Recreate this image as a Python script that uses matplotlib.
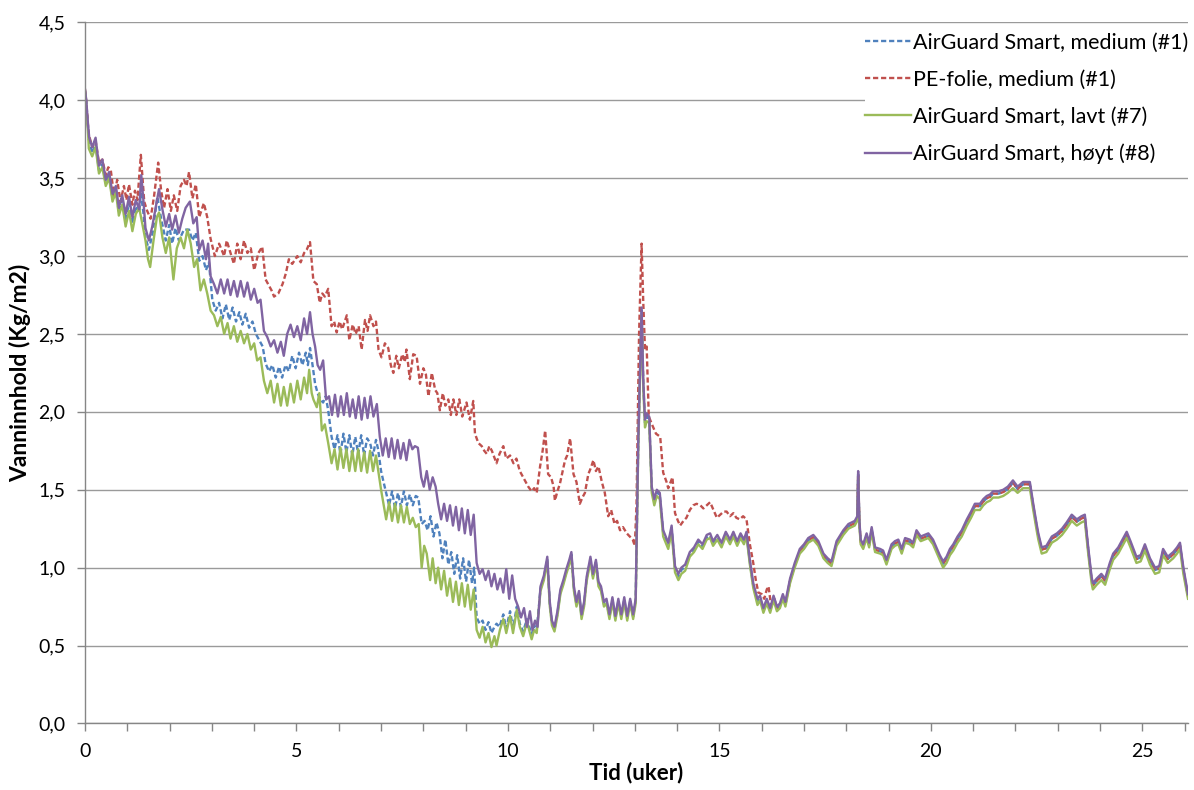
import matplotlib.pyplot as plt
from matplotlib.ticker import MultipleLocator, FuncFormatter

plt.rcParams['font.family'] = ['Lato', 'DejaVu Sans']

# series names and colours (Excel 2007 palette)
labels = ['AirGuard Smart, medium (#1)', 'PE-folie, medium (#1)',
          'AirGuard Smart, lavt (#7)', 'AirGuard Smart, høyt (#8)']
colors = ['#4F81BD', '#C0504D', '#9BBB59', '#8064A2']

# (uker, kg/m2)
hoyt = [(0.00,4.07),(0.03,4.00),(0.07,3.85),(0.10,3.76),(0.17,3.70),(0.25,3.76),(0.33,3.58),(0.41,3.62),(0.49,3.49),(0.57,3.54),
        (0.65,3.40),(0.73,3.45),(0.80,3.31),(0.88,3.39),(0.96,3.27),(1.04,3.38),(1.12,3.25),(1.20,3.36),(1.28,3.30),(1.33,3.52),
        (1.38,3.36),(1.43,3.18),(1.51,3.10),(1.59,3.19),(1.67,3.31),(1.75,3.43),(1.83,3.30),(1.91,3.19),(1.99,3.27),(2.06,3.17),
        (2.14,3.26),(2.22,3.15),(2.30,3.24),(2.38,3.31),(2.48,3.35),(2.56,3.21),(2.64,3.25),(2.70,3.04),(2.78,3.10),(2.86,2.98),
        (2.91,3.08),(2.97,2.87),(3.05,2.82),(3.13,2.76),(3.21,2.85),(3.29,2.76),(3.37,2.85),(3.44,2.75),(3.52,2.84),(3.60,2.74),
        (3.68,2.84),(3.76,2.74),(3.84,2.83),(3.92,2.72),(4.00,2.79),(4.08,2.70),(4.15,2.72),(4.23,2.52),(4.31,2.48),(4.39,2.42),
        (4.47,2.46),(4.55,2.38),(4.63,2.45),(4.70,2.36),(4.78,2.50),(4.86,2.56),(4.94,2.48),(5.02,2.55),(5.10,2.46),(5.18,2.60),
        (5.25,2.50),(5.32,2.64),(5.38,2.50),(5.44,2.42),(5.50,2.30),(5.56,2.27),(5.63,2.33),(5.70,2.08),(5.77,2.10),(5.84,1.98),
        (5.91,2.11),(5.98,1.97),(6.05,2.10),(6.12,1.98),(6.19,2.12),(6.26,1.97),(6.33,2.08),(6.40,1.96),(6.47,2.10),(6.54,1.95),
        (6.61,2.09),(6.68,1.96),(6.75,2.10),(6.82,1.97),(6.90,2.05),(6.97,1.84),(7.04,1.72),(7.11,1.83),(7.18,1.71),(7.25,1.83),
        (7.32,1.70),(7.39,1.82),(7.46,1.70),(7.53,1.80),(7.60,1.69),(7.67,1.82),(7.74,1.76),(7.80,1.78),(7.87,1.77),(7.95,1.58),
        (8.01,1.52),(8.08,1.62),(8.15,1.50),(8.22,1.58),(8.29,1.52),(8.35,1.41),(8.42,1.31),(8.49,1.41),(8.56,1.30),(8.63,1.40),
        (8.70,1.27),(8.77,1.39),(8.84,1.24),(8.91,1.38),(8.98,1.22),(9.05,1.37),(9.12,1.21),(9.19,1.34),(9.26,1.03),(9.33,0.96),
        (9.40,0.99),(9.47,0.92),(9.54,0.98),(9.61,0.88),(9.68,0.96),(9.75,0.86),(9.82,0.93),(9.89,0.84),(9.96,0.99),(10.03,0.80),
        (10.10,0.95),(10.17,0.80),(10.24,0.75),(10.31,0.68),(10.38,0.74),(10.45,0.62),(10.52,0.72),(10.58,0.60),(10.64,0.66),(10.70,0.62),
        (10.77,0.88),(10.85,0.95),(10.93,1.07),(10.99,0.78),(11.04,0.66),(11.10,0.62),(11.17,0.72),(11.24,0.86),(11.31,0.92),(11.38,0.99),
        (11.45,1.05),(11.50,1.10),(11.56,0.88),(11.62,0.78),(11.68,0.85),(11.74,0.70),(11.80,0.78),(11.86,0.94),(11.95,1.07),(12.01,0.96),
        (12.08,1.05),(12.14,0.91),(12.20,0.88),(12.27,0.78),(12.33,0.80),(12.40,0.70),(12.47,0.81),(12.54,0.69),(12.61,0.80),(12.68,0.70),
        (12.75,0.81),(12.82,0.69),(12.89,0.80),(12.96,0.70),(13.02,0.80),(13.08,1.80),(13.16,2.67),(13.20,2.20),(13.24,1.95),(13.28,1.99),
        (13.34,1.97),(13.40,1.52),(13.46,1.44),(13.52,1.50),(13.59,1.48),(13.67,1.24),(13.79,1.16),(13.87,1.27),(13.95,1.01),(14.03,0.96),
        (14.10,1.00),(14.19,1.02),(14.30,1.10),(14.40,1.13),(14.50,1.18),(14.60,1.15),(14.70,1.21),(14.78,1.22),(14.85,1.17),(14.95,1.21),
        (15.05,1.16),(15.15,1.23),(15.25,1.18),(15.33,1.23),(15.42,1.17),(15.50,1.22),(15.58,1.18),(15.64,1.23),(15.72,1.05),(15.80,0.90),
        (15.90,0.80),(15.96,0.82),(16.04,0.74),(16.12,0.80),(16.20,0.74),(16.28,0.82),(16.36,0.75),(16.43,0.77),(16.50,0.83),(16.56,0.78),
        (16.67,0.93),(16.78,1.03),(16.90,1.12),(17.00,1.15),(17.10,1.19),(17.22,1.21),(17.34,1.17),(17.46,1.09),(17.56,1.06),(17.65,1.04),
        (17.77,1.17),(17.93,1.24),(18.05,1.28),(18.20,1.30),(18.26,1.33),(18.28,1.62),(18.31,1.30),(18.34,1.18),(18.40,1.15),(18.48,1.22),
        (18.54,1.16),(18.60,1.26),(18.68,1.13),(18.80,1.12),(18.87,1.11),(18.95,1.05),(19.07,1.15),(19.15,1.17),(19.23,1.18),(19.31,1.12),
        (19.39,1.19),(19.50,1.18),(19.58,1.16),(19.66,1.24),(19.76,1.20),(19.85,1.21),(19.94,1.22),(20.05,1.18),(20.13,1.13),(20.21,1.08),
        (20.29,1.04),(20.37,1.07),(20.45,1.12),(20.53,1.15),(20.63,1.20),(20.73,1.24),(20.85,1.31),(20.95,1.36),(21.04,1.41),(21.16,1.41),
        (21.24,1.44),(21.32,1.46),(21.40,1.47),(21.47,1.49),(21.60,1.49),(21.71,1.50),(21.82,1.52),(21.94,1.56),(22.05,1.52),(22.18,1.55),
        (22.34,1.55),(22.42,1.41),(22.50,1.28),(22.54,1.22),(22.62,1.13),(22.73,1.14),(22.86,1.20),(22.98,1.22),(23.10,1.25),(23.21,1.29),
        (23.33,1.34),(23.45,1.31),(23.56,1.33),(23.64,1.34),(23.72,1.13),(23.80,0.94),(23.83,0.90),(23.92,0.93),(24.03,0.96),(24.12,0.93),
        (24.23,1.03),(24.31,1.09),(24.43,1.13),(24.55,1.19),(24.63,1.23),(24.72,1.17),(24.86,1.07),(24.96,1.08),(25.06,1.15),(25.18,1.06),
        (25.30,1.00),(25.40,1.01),(25.49,1.12),(25.60,1.07),(25.73,1.10),(25.82,1.13),(25.89,1.16),(25.97,1.00),(26.08,0.83)]

lavt = [(0.00,4.05),(0.03,3.97),(0.07,3.80),(0.09,3.69),(0.17,3.64),(0.25,3.70),(0.33,3.53),(0.41,3.57),(0.49,3.45),(0.57,3.50),
        (0.65,3.35),(0.73,3.41),(0.80,3.26),(0.88,3.33),(0.96,3.19),(1.04,3.29),(1.12,3.16),(1.20,3.27),(1.28,3.31),(1.36,3.20),
        (1.43,3.10),(1.49,2.98),(1.54,2.93),(1.62,3.10),(1.70,3.25),(1.75,3.28),(1.83,3.12),(1.91,3.02),(1.99,3.12),(2.09,2.85),
        (2.17,3.05),(2.26,3.12),(2.34,3.05),(2.42,3.17),(2.50,3.08),(2.58,2.93),(2.65,2.98),(2.73,2.78),(2.81,2.85),(2.89,2.76),
        (2.97,2.65),(3.05,2.62),(3.13,2.55),(3.21,2.61),(3.29,2.50),(3.37,2.57),(3.44,2.47),(3.52,2.55),(3.60,2.45),(3.68,2.52),
        (3.76,2.44),(3.84,2.50),(3.92,2.40),(4.00,2.44),(4.07,2.33),(4.15,2.35),(4.23,2.20),(4.31,2.12),(4.39,2.20),(4.47,2.06),
        (4.55,2.18),(4.63,2.04),(4.70,2.16),(4.78,2.04),(4.86,2.18),(4.94,2.06),(5.02,2.20),(5.10,2.08),(5.18,2.22),(5.25,2.12),
        (5.30,2.27),(5.36,2.12),(5.40,2.08),(5.48,2.03),(5.54,2.12),(5.60,1.88),(5.67,1.92),(5.75,1.80),(5.83,1.67),(5.90,1.76),
        (5.97,1.63),(6.04,1.77),(6.11,1.64),(6.18,1.76),(6.25,1.62),(6.32,1.75),(6.39,1.62),(6.46,1.76),(6.53,1.62),(6.60,1.74),
        (6.67,1.61),(6.74,1.75),(6.81,1.62),(6.88,1.72),(6.93,1.63),(7.00,1.50),(7.05,1.42),(7.12,1.31),(7.19,1.42),(7.26,1.30),
        (7.33,1.41),(7.40,1.29),(7.47,1.40),(7.54,1.29),(7.61,1.39),(7.68,1.28),(7.75,1.32),(7.82,1.26),(7.89,1.28),(7.96,1.00),
        (8.02,1.14),(8.08,1.09),(8.16,0.92),(8.22,1.06),(8.29,0.90),(8.35,1.00),(8.42,0.86),(8.49,0.98),(8.56,0.82),(8.63,0.93),
        (8.70,0.78),(8.77,0.91),(8.84,0.76),(8.91,0.90),(8.98,0.75),(9.05,0.89),(9.12,0.73),(9.19,0.86),(9.26,0.60),(9.33,0.55),
        (9.40,0.62),(9.47,0.52),(9.54,0.58),(9.61,0.49),(9.68,0.56),(9.73,0.50),(9.81,0.60),(9.89,0.67),(9.96,0.58),(10.05,0.69),
        (10.12,0.58),(10.21,0.73),(10.28,0.62),(10.36,0.56),(10.45,0.65),(10.56,0.54),(10.62,0.60),(10.68,0.58),
        (10.77,0.85),(10.85,0.92),(10.93,1.04),(10.99,0.75),(11.04,0.63),(11.10,0.59),(11.17,0.69),(11.24,0.83),(11.31,0.89),(11.38,0.96),
        (11.45,1.02),(11.50,1.07),(11.56,0.85),(11.62,0.75),(11.68,0.82),(11.74,0.67),(11.80,0.75),(11.86,0.91),(11.95,1.04),(12.01,0.93),
        (12.08,1.02),(12.14,0.88),(12.20,0.85),(12.27,0.75),(12.33,0.77),(12.40,0.67),(12.47,0.78),(12.54,0.66),(12.61,0.77),(12.68,0.67),
        (12.75,0.78),(12.82,0.66),(12.89,0.77),(12.96,0.67),(13.02,0.77),(13.08,1.75),(13.16,2.62),(13.20,2.15),(13.24,1.90),(13.28,1.94),
        (13.34,1.93),(13.40,1.48),(13.46,1.40),(13.52,1.46),(13.59,1.44),(13.67,1.20),(13.79,1.12),(13.87,1.23),(13.95,0.97),(14.03,0.92),
        (14.10,0.96),(14.19,0.98),(14.30,1.07),(14.40,1.10),(14.50,1.15),(14.60,1.12),(14.70,1.18),(14.78,1.19),(14.85,1.14),(14.95,1.18),
        (15.05,1.13),(15.15,1.20),(15.25,1.15),(15.33,1.20),(15.42,1.14),(15.50,1.19),(15.58,1.15),(15.64,1.20),(15.72,1.02),(15.80,0.87),
        (15.90,0.76),(15.96,0.79),(16.04,0.71),(16.12,0.77),(16.20,0.71),(16.28,0.79),(16.36,0.72),(16.43,0.74),(16.50,0.80),(16.56,0.75),
        (16.67,0.90),(16.78,1.00),(16.90,1.09),(17.00,1.12),(17.10,1.16),(17.22,1.18),(17.34,1.14),(17.46,1.06),(17.56,1.03),(17.65,1.01),
        (17.77,1.14),(17.93,1.21),(18.05,1.25),(18.20,1.27),(18.26,1.30),(18.28,1.58),(18.31,1.27),(18.34,1.15),(18.40,1.12),(18.48,1.19),
        (18.54,1.13),(18.60,1.23),(18.68,1.10),(18.80,1.09),(18.87,1.08),(18.95,1.02),(19.07,1.12),(19.15,1.14),(19.23,1.15),(19.31,1.09),
        (19.39,1.16),(19.50,1.15),(19.58,1.13),(19.66,1.21),(19.76,1.17),(19.85,1.18),(19.94,1.19),(20.05,1.15),(20.13,1.10),(20.21,1.05),
        (20.29,1.00),(20.37,1.03),(20.45,1.08),(20.53,1.11),(20.63,1.16),(20.73,1.20),(20.85,1.27),(20.95,1.32),(21.04,1.37),(21.16,1.37),
        (21.24,1.40),(21.32,1.42),(21.40,1.43),(21.47,1.45),(21.60,1.45),(21.71,1.46),(21.82,1.48),(21.94,1.51),(22.05,1.48),(22.18,1.51),
        (22.34,1.51),(22.42,1.37),(22.50,1.24),(22.54,1.18),(22.62,1.09),(22.73,1.10),(22.86,1.16),(22.98,1.18),(23.10,1.21),(23.21,1.25),
        (23.33,1.30),(23.45,1.27),(23.56,1.29),(23.64,1.30),(23.72,1.09),(23.80,0.90),(23.83,0.86),(23.92,0.89),(24.03,0.92),(24.12,0.89),
        (24.23,0.99),(24.31,1.05),(24.43,1.09),(24.55,1.15),(24.63,1.19),(24.72,1.13),(24.86,1.03),(24.96,1.04),(25.06,1.11),(25.18,1.02),
        (25.30,0.96),(25.40,0.97),(25.49,1.08),(25.60,1.03),(25.73,1.06),(25.82,1.09),(25.89,1.12),(25.97,0.96),(26.08,0.80)]

medium = [(0.00,4.06),(0.03,3.99),(0.07,3.83),(0.09,3.75),(0.17,3.66),(0.25,3.72),(0.33,3.55),(0.41,3.59),(0.49,3.47),(0.57,3.52),
          (0.65,3.37),(0.73,3.43),(0.80,3.28),(0.88,3.36),(0.96,3.23),(1.04,3.34),(1.12,3.21),(1.20,3.32),(1.28,3.28),(1.32,3.40),
          (1.38,3.28),(1.43,3.12),(1.51,3.04),(1.60,3.15),(1.71,3.38),(1.80,3.24),(1.91,3.10),(1.99,3.20),(2.06,3.08),(2.14,3.18),
          (2.22,3.10),(2.34,3.17),(2.46,3.17),(2.54,3.10),(2.62,3.15),(2.70,2.97),(2.78,3.00),(2.86,2.91),(2.93,2.96),(3.01,2.72),
          (3.09,2.65),(3.17,2.70),(3.25,2.60),(3.33,2.69),(3.41,2.59),(3.49,2.67),(3.57,2.58),(3.65,2.64),(3.72,2.56),(3.80,2.63),
          (3.88,2.54),(3.96,2.58),(4.04,2.50),(4.12,2.46),(4.20,2.42),(4.27,2.31),(4.35,2.26),(4.43,2.30),(4.51,2.22),(4.59,2.29),
          (4.66,2.22),(4.74,2.30),(4.82,2.26),(4.90,2.36),(4.98,2.28),(5.06,2.38),(5.14,2.30),(5.22,2.38),(5.27,2.30),(5.32,2.41),
          (5.38,2.30),(5.44,2.18),(5.50,2.12),(5.56,2.08),(5.63,2.06),(5.69,2.10),(5.75,2.01),(5.83,1.84),(5.90,1.76),(5.97,1.85),
          (6.04,1.73),(6.11,1.86),(6.18,1.74),(6.25,1.85),(6.32,1.72),(6.39,1.84),(6.46,1.73),(6.53,1.85),(6.60,1.72),(6.67,1.83),
          (6.74,1.80),(6.81,1.72),(6.88,1.82),(6.93,1.76),(7.00,1.62),(7.05,1.56),(7.12,1.48),(7.19,1.40),(7.26,1.49),(7.33,1.38),
          (7.40,1.48),(7.47,1.39),(7.54,1.49),(7.61,1.40),(7.68,1.47),(7.75,1.40),(7.82,1.46),(7.88,1.45),(7.96,1.28),(8.03,1.30),
          (8.10,1.24),(8.17,1.33),(8.24,1.20),(8.31,1.29),(8.38,1.22),(8.45,1.06),(8.52,1.18),(8.59,1.02),(8.66,1.10),(8.73,0.96),
          (8.80,1.08),(8.87,0.93),(8.94,1.06),(9.01,0.91),(9.08,1.05),(9.15,0.90),(9.20,1.00),(9.26,0.68),(9.33,0.64),(9.40,0.66),
          (9.47,0.60),(9.54,0.65),(9.61,0.58),(9.68,0.62),(9.73,0.64),(9.80,0.62),(9.89,0.70),(9.96,0.61),(10.05,0.72),(10.12,0.61),
          (10.21,0.75),(10.28,0.64),(10.36,0.59),(10.45,0.67),(10.56,0.57),(10.62,0.63),(10.68,0.60),
          (10.77,0.865),(10.85,0.935),(10.93,1.055),(10.99,0.765),(11.04,0.645),(11.10,0.605),(11.17,0.705),(11.24,0.845),(11.31,0.905),
          (11.38,0.975),(11.45,1.035),(11.50,1.085),(11.56,0.865),(11.62,0.765),(11.68,0.835),(11.74,0.685),(11.80,0.765),(11.86,0.925),
          (11.95,1.055),(12.01,0.945),(12.08,1.035),(12.14,0.895),(12.20,0.865),(12.27,0.765),(12.33,0.785),(12.40,0.685),(12.47,0.795),
          (12.54,0.675),(12.61,0.785),(12.68,0.685),(12.75,0.795),(12.82,0.675),(12.89,0.785),(12.96,0.685),(13.02,0.785),(13.08,1.78),
          (13.16,2.65),(13.20,2.18),(13.24,1.93),(13.28,1.97),(13.34,1.955),(13.40,1.505),(13.46,1.425),(13.52,1.485),(13.59,1.465),
          (13.67,1.225),(13.79,1.145),(13.87,1.255),(13.95,0.995),(14.03,0.945),(14.10,0.985),(14.19,1.005),(14.30,1.085),(14.40,1.115),
          (14.50,1.165),(14.60,1.135),(14.70,1.195),(14.78,1.205),(14.85,1.155),(14.95,1.195),(15.05,1.145),(15.15,1.215),(15.25,1.165),
          (15.33,1.215),(15.42,1.155),(15.50,1.205),(15.58,1.165),(15.64,1.215),(15.72,1.035),(15.80,0.885),(15.90,0.785),(15.96,0.805),
          (16.04,0.725),(16.12,0.785),(16.20,0.725),(16.28,0.805),(16.36,0.735),(16.43,0.755),(16.50,0.815),(16.56,0.765),(16.67,0.915),
          (16.78,1.015),(16.90,1.105),(17.00,1.135),(17.10,1.175),(17.22,1.195),(17.34,1.155),(17.46,1.075),(17.56,1.045),(17.65,1.025),
          (17.77,1.155),(17.93,1.225),(18.05,1.265),(18.20,1.285),(18.26,1.315),(18.28,1.60),(18.31,1.285),(18.34,1.165),(18.40,1.135),
          (18.48,1.205),(18.54,1.145),(18.60,1.245),(18.68,1.115),(18.80,1.105),(18.87,1.095),(18.95,1.035),(19.07,1.135),(19.15,1.155),
          (19.23,1.165),(19.31,1.105),(19.39,1.175),(19.50,1.165),(19.58,1.145),(19.66,1.225),(19.76,1.185),(19.85,1.195),(19.94,1.205),
          (20.05,1.165),(20.13,1.115),(20.21,1.065),(20.29,1.025),(20.37,1.055),(20.45,1.105),(20.53,1.135),(20.63,1.185),(20.73,1.225),
          (20.85,1.295),(20.95,1.345),(21.04,1.395),(21.16,1.395),(21.24,1.425),(21.32,1.445),(21.40,1.455),(21.47,1.475),(21.60,1.475),
          (21.71,1.485),(21.82,1.505),(21.94,1.545),(22.05,1.505),(22.18,1.535),(22.34,1.535),(22.42,1.395),(22.50,1.265),(22.54,1.205),
          (22.62,1.115),(22.73,1.125),(22.86,1.185),(22.98,1.205),(23.10,1.235),(23.21,1.275),(23.33,1.325),(23.45,1.295),(23.56,1.315),
          (23.64,1.325),(23.72,1.115),(23.80,0.925),(23.83,0.885),(23.92,0.915),(24.03,0.945),(24.12,0.915),(24.23,1.015),(24.31,1.075),
          (24.43,1.115),(24.55,1.175),(24.63,1.215),(24.72,1.155),(24.86,1.055),(24.96,1.065),(25.06,1.135),(25.18,1.045),(25.30,0.985),
          (25.40,0.995),(25.49,1.105),(25.60,1.055),(25.73,1.085),(25.82,1.115),(25.89,1.145),(25.97,0.985),(26.08,0.815)]

pe = [(0.00,4.07),(0.03,3.99),(0.07,3.84),(0.09,3.78),(0.17,3.70),(0.25,3.74),(0.33,3.60),(0.41,3.62),(0.49,3.52),(0.55,3.57),
      (0.61,3.55),(0.69,3.38),(0.76,3.49),(0.84,3.35),(0.92,3.45),(0.98,3.36),(1.04,3.46),(1.12,3.33),(1.18,3.42),(1.24,3.36),
      (1.32,3.65),(1.40,3.35),(1.47,3.29),(1.55,3.24),(1.63,3.38),(1.73,3.60),(1.80,3.42),(1.87,3.31),(1.95,3.43),(2.03,3.29),
      (2.10,3.39),(2.18,3.29),(2.26,3.45),(2.34,3.49),(2.40,3.45),(2.46,3.54),(2.54,3.37),(2.62,3.46),(2.70,3.25),(2.76,3.30),
      (2.81,3.34),(2.89,3.25),(2.97,3.11),(3.07,3.00),(3.17,3.08),(3.29,3.00),(3.35,3.10),(3.44,3.02),(3.52,2.95),(3.60,3.08),
      (3.68,2.98),(3.76,3.10),(3.84,3.02),(3.92,3.05),(4.00,2.91),(4.10,3.02),(4.19,3.06),(4.27,2.85),(4.35,2.81),(4.41,2.78),
      (4.47,2.74),(4.57,2.76),(4.67,2.82),(4.75,2.89),(4.82,2.98),(4.90,2.95),(5.02,3.00),(5.10,2.96),(5.18,3.02),(5.24,3.04),
      (5.32,3.09),(5.40,2.84),(5.48,2.82),(5.55,2.70),(5.61,2.76),(5.67,2.74),(5.75,2.79),(5.83,2.55),(5.89,2.58),(5.95,2.51),
      (6.02,2.58),(6.08,2.53),(6.19,2.62),(6.25,2.46),(6.33,2.56),(6.40,2.50),(6.47,2.55),(6.54,2.40),(6.62,2.59),(6.68,2.52),
      (6.74,2.62),(6.82,2.55),(6.88,2.58),(6.94,2.40),(7.01,2.35),(7.09,2.44),(7.17,2.41),(7.23,2.30),(7.29,2.25),(7.36,2.36),
      (7.42,2.28),(7.50,2.37),(7.56,2.32),(7.60,2.40),(7.68,2.21),(7.76,2.37),(7.84,2.36),(7.92,2.18),(8.00,2.28),(8.06,2.24),
      (8.12,2.10),(8.20,2.25),(8.28,2.14),(8.33,2.12),(8.39,2.01),(8.46,2.12),(8.52,2.04),(8.59,2.08),(8.65,1.98),(8.71,2.08),
      (8.78,1.98),(8.85,2.08),(8.92,1.97),(9.02,2.06),(9.10,1.95),(9.18,2.07),(9.22,1.86),(9.30,1.80),(9.38,1.78),(9.44,1.75),
      (9.50,1.73),(9.56,1.78),(9.62,1.75),(9.73,1.67),(9.80,1.73),(9.89,1.78),(9.96,1.70),(10.05,1.72),(10.13,1.67),(10.20,1.70),
      (10.28,1.62),(10.36,1.58),(10.42,1.55),(10.48,1.52),(10.56,1.49),(10.62,1.51),(10.68,1.48),(10.76,1.65),(10.82,1.75),(10.88,1.88),
      (10.95,1.60),(11.02,1.58),(11.08,1.52),(11.11,1.43),(11.17,1.49),(11.23,1.54),(11.35,1.69),(11.40,1.72),(11.47,1.83),(11.55,1.60),
      (11.62,1.55),(11.70,1.41),(11.76,1.45),(11.82,1.48),(11.90,1.60),(11.96,1.64),(12.02,1.69),(12.08,1.62),(12.14,1.65),(12.22,1.55),
      (12.29,1.48),(12.37,1.33),(12.44,1.37),(12.52,1.28),(12.58,1.30),(12.65,1.24),(12.72,1.26),(12.81,1.22),(12.88,1.20),(12.95,1.18),
      (13.00,1.14),(13.04,1.40),(13.10,2.50),(13.16,3.08),(13.20,2.70),(13.24,2.40),(13.28,2.42),(13.33,1.97),(13.42,1.91),(13.50,1.86),
      (13.60,1.84),(13.67,1.61),(13.75,1.55),(13.79,1.51),(13.89,1.58),(13.95,1.35),(14.02,1.30),(14.07,1.27),(14.15,1.30),(14.22,1.32),
      (14.30,1.37),(14.38,1.40),(14.46,1.41),(14.55,1.40),(14.62,1.38),(14.70,1.40),(14.78,1.42),(14.86,1.37),(14.94,1.32),(15.02,1.34),
      (15.10,1.36),(15.17,1.36),(15.25,1.33),(15.33,1.35),(15.40,1.32),(15.48,1.31),(15.56,1.33),(15.64,1.31),(15.72,1.15),(15.80,1.03),
      (15.86,0.92),(15.92,0.84),(16.00,0.83),(16.06,0.80),(16.12,0.86),(16.16,0.88),(16.22,0.76),(16.30,0.80),
      (16.36,0.735),(16.43,0.755),(16.50,0.815),(16.56,0.765),(16.67,0.915),(16.78,1.015),(16.90,1.105),(17.00,1.135),(17.10,1.175),
      (17.22,1.195),(17.34,1.155),(17.46,1.075),(17.56,1.045),(17.65,1.025),(17.77,1.155),(17.93,1.225),(18.05,1.265),(18.20,1.285),
      (18.26,1.315),(18.28,1.60),(18.31,1.285),(18.34,1.165),(18.40,1.135),(18.48,1.205),(18.54,1.145),(18.60,1.245),(18.68,1.115),
      (18.80,1.105),(18.87,1.095),(18.95,1.035),(19.07,1.135),(19.15,1.155),(19.23,1.165),(19.31,1.105),(19.39,1.175),(19.50,1.165),
      (19.58,1.145),(19.66,1.225),(19.76,1.185),(19.85,1.195),(19.94,1.205),(20.05,1.165),(20.13,1.115),(20.21,1.065),(20.29,1.025),
      (20.37,1.055),(20.45,1.105),(20.53,1.135),(20.63,1.185),(20.73,1.225),(20.85,1.295),(20.95,1.345),(21.04,1.395),(21.16,1.395),
      (21.24,1.425),(21.32,1.445),(21.40,1.455),(21.47,1.475),(21.60,1.475),(21.71,1.485),(21.82,1.505),(21.94,1.545),(22.05,1.505),
      (22.18,1.535),(22.34,1.535),(22.42,1.395),(22.50,1.265),(22.54,1.205),(22.62,1.115),(22.73,1.125),(22.86,1.185),(22.98,1.205),
      (23.10,1.235),(23.21,1.275),(23.33,1.325),(23.45,1.295),(23.56,1.315),(23.64,1.325),(23.72,1.115),(23.80,0.925),(23.83,0.885),
      (23.92,0.915),(24.03,0.945),(24.12,0.915),(24.23,1.015),(24.31,1.075),(24.43,1.115),(24.55,1.175),(24.63,1.215),(24.72,1.155),
      (24.86,1.055),(24.96,1.065),(25.06,1.135),(25.18,1.045),(25.30,0.985),(25.40,0.995),(25.49,1.105),(25.60,1.055),(25.73,1.085),
      (25.82,1.115),(25.89,1.145),(25.97,0.985),(26.08,0.815)]

series = [medium, pe, lavt, hoyt]
dashed = [True, True, False, False]

fig = plt.figure(figsize=(11.94, 7.90), dpi=100)
ax = fig.add_axes([0.0712, 0.0843, 0.9238, 0.8873])

for data, lab, col, dsh in zip(series, labels, colors, dashed):
    t = [p[0] for p in data]
    v = [p[1] for p in data]
    if dsh:
        ax.plot(t, v, color=col, lw=1.7, label=lab, dashes=(2.2, 1.2), solid_joinstyle='round')
    else:
        ax.plot(t, v, color=col, lw=1.7, label=lab, solid_joinstyle='round')

ax.set_xlim(0, 26.08)
ax.set_ylim(0, 4.5)
ax.xaxis.set_major_locator(MultipleLocator(5))
ax.xaxis.set_minor_locator(MultipleLocator(1))
ax.yaxis.set_major_locator(MultipleLocator(0.5))
ax.yaxis.set_major_formatter(FuncFormatter(lambda y, pos: ('%.1f' % y).replace('.', ',')))
ax.xaxis.set_major_formatter(FuncFormatter(lambda x, pos: '%d' % x))

grey = '#868686'
ax.grid(axis='y', color='#9a9a9a', lw=1.0)
ax.set_axisbelow(True)
for s in ['top', 'right']:
    ax.spines[s].set_visible(False)
for s in ['left', 'bottom']:
    ax.spines[s].set_color(grey)
    ax.spines[s].set_linewidth(1.0)
ax.tick_params(axis='both', which='both', color=grey, length=6, width=1, labelsize=14)
ax.tick_params(axis='y', pad=8)
ax.tick_params(axis='x', pad=8)

ax.set_xlabel('Tid (uker)', fontsize=16, fontweight='bold', labelpad=1)
ax.set_ylabel('Vanninnhold (Kg/m2)', fontsize=16.5, fontweight='bold', labelpad=5)

leg = ax.legend(loc='upper right', bbox_to_anchor=(1.0, 0.985), fontsize=15.5, frameon=True,
                fancybox=False, edgecolor='none', facecolor='white', framealpha=1,
                handlelength=2.1, handletextpad=0.1, labelspacing=0.785, borderpad=0.0,
                borderaxespad=0.0)

plt.savefig('out.png', dpi=100)
